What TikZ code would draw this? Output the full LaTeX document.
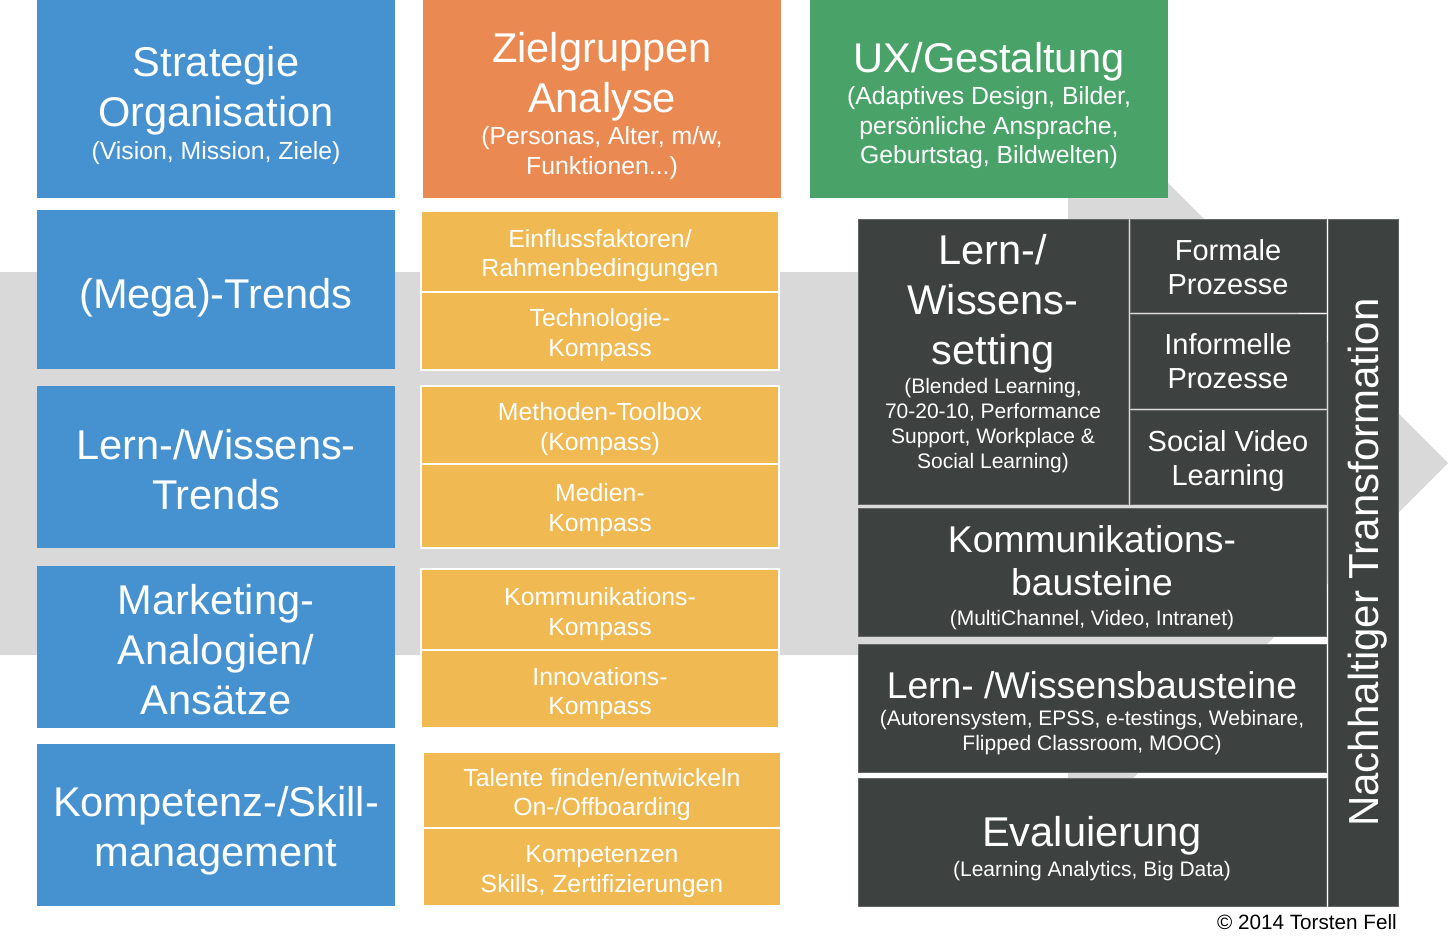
\documentclass[tikz,border=0pt]{standalone}
\usepackage{fontspec}
\setmainfont{Liberation Sans}
\usepackage{tikz}
\usetikzlibrary{positioning}
\definecolor{stratblau}{RGB}{70,146,208}
\definecolor{zielorange}{RGB}{234,138,82}
\definecolor{uxgruen}{RGB}{73,162,103}
\definecolor{kompassgelb}{RGB}{240,185,82}
\definecolor{settinggrau}{RGB}{61,65,64}
\definecolor{pfeilgrau}{RGB}{217,217,217}
\newcommand\boxtitle{\fontsize{41.6}{50}\selectfont}
\newcommand\boxbig{\fontsize{37.3}{43}\selectfont}
\newcommand\boxmid{\fontsize{29}{34}\selectfont}
\newcommand\boxsub{\fontsize{24.8}{29.5}\selectfont}
\newcommand\boxsmall{\fontsize{21}{25}\selectfont}
\newcommand\toprule[1]{\rule{0pt}{#1}}
\newcommand\botrule[1]{\rule[-#1]{0pt}{0pt}}
\tikzset{
  cell/.style={inner sep=0pt, outer sep=0pt, text=white, align=center,
    minimum width=358pt},
  bluebox/.style={cell, fill=stratblau, font=\boxtitle},
  topbox/.style={cell, font=\boxtitle, minimum height=198pt},
  yellowbox/.style={cell, fill=kompassgelb, draw=white, line width=1.5pt,
    font=\boxsub},
  darkbox/.style={cell, fill=settinggrau, draw=gray!60!settinggrau,
    line width=0.6pt}
}

\begin{document}
\begin{tikzpicture}[x=1pt,y=-1pt]
  \useasboundingbox (0,0) rectangle (1450,942);
  \fill[pfeilgrau] (0,272) -- (1068,272) -- (1068,83) -- (1448,463)
    -- (1068,843) -- (1068,655) -- (0,655) -- cycle;

  \node[topbox, fill=stratblau] (strat) at (216,99)
    {\toprule{44pt}Strategie\\Organisation\\[-17pt]\boxsub (Vision, Mission, Ziele)};
  \node[topbox, fill=zielorange] (ziel) at (602,99)
    {\toprule{44pt}Zielgruppen\\Analyse\\[-18pt]\boxsub (Personas, Alter, m/w,\\[-20.5pt]\boxsub Funktionen...)};
  \node[topbox, fill=uxgruen] (ux) at (989,99)
    {\toprule{44pt}UX/Gestaltung\\[-18pt]\boxsub (Adaptives Design, Bilder,\\[-20.5pt]\boxsub persönliche Ansprache,\\[-20.5pt]\boxsub Geburtstag, Bildwelten)};

  \node[bluebox, minimum height=159pt] (mega) at (216,289.5) {\toprule{46pt}(Mega)-Trends};
  \node[bluebox, minimum height=162pt] (lwtrends) at (216,467) {\toprule{36pt}Lern-/Wissens-\\Trends};
  \node[bluebox, minimum height=162pt] (marketing) at (216,647) {\toprule{36pt}Marketing-\\Analogien/\\Ansätze};
  \node[bluebox, minimum height=162pt] (kompetenz) at (216,825) {\toprule{42pt}Kompetenz-/Skill-\\management};

  \node[yellowbox, minimum height=81pt] (einfluss) at (600,251.5) {\toprule{26pt}Einflussfaktoren/\\Rahmenbedingungen};
  \node[yellowbox, minimum height=78pt] (techkomp) at (600,331) {\toprule{26.5pt}Technologie-\\Kompass};
  \node[yellowbox, minimum height=78pt] (methoden) at (600,425) {\toprule{26.5pt}Methoden-Toolbox\\(Kompass)};
  \node[yellowbox, minimum height=84pt] (medien) at (600,506) {\toprule{26.5pt}Medien-\\Kompass};
  \node[yellowbox, minimum height=81pt] (kommkomp) at (600,609.5) {\toprule{27pt}Kommunikations-\\Kompass};
  \node[yellowbox, minimum height=78pt] (innov) at (600,689) {\toprule{27pt}Innovations-\\Kompass};
  \node[yellowbox, minimum height=76pt] (talente) at (602,790) {\toprule{27pt}Talente finden/entwickeln\\On-/Offboarding};
  \node[yellowbox, minimum height=78pt] (kompz) at (602,867) {\toprule{26.5pt}Kompetenzen\\Skills, Zertifizierungen};

  \node[darkbox, font=\boxtitle, minimum width=270pt, minimum height=285pt] (setting) at (993,361.5)
    {Lern-/\\Wissens-\\setting\\[-21pt]\boxsmall (Blended Learning,\\[-25pt]\boxsmall 70-20-10, Performance\\[-25pt]\boxsmall Support, Workplace \&\\[-25pt]\boxsmall Social Learning)\botrule{19.5pt}};
  \node[darkbox, font=\boxmid, minimum width=196pt, minimum height=93pt] (formal) at (1228,265.5) {\toprule{25pt}Formale\\Prozesse};
  \node[darkbox, font=\boxmid, minimum width=196pt, minimum height=94pt] (informell) at (1228,361) {Informelle\\Prozesse};
  \node[darkbox, font=\boxmid, minimum width=196pt, minimum height=94pt] (socvideo) at (1228,457) {\toprule{29pt}Social Video\\Learning};
  \node[darkbox, font=\boxbig, minimum width=468pt, minimum height=128pt] (kommbau) at (1092,572)
    {\toprule{39pt}Kommunikations-\\bausteine\\[-13pt]\boxsmall (MultiChannel, Video, Intranet)};
  \node[darkbox, font=\boxbig, minimum width=468pt, minimum height=128pt] (lwbau) at (1092,708)
    {\toprule{38pt}Lern- /Wissensbausteine\\[-16pt]\boxsmall (Autorensystem, EPSS, e-testings, Webinare,\\[-18pt]\boxsmall Flipped Classroom, MOOC)};
  \node[darkbox, font=\boxtitle, minimum width=468pt, minimum height=128pt] (evalu) at (1092,842)
    {\toprule{44pt}Evaluierung\\[-20pt]\boxsmall (Learning Analytics, Big Data)};
  \node[darkbox, font=\fontsize{42}{50}\selectfont, rotate=90, minimum width=687pt, minimum height=70pt] (nachhaltig) at (1363,562.5)
    {\toprule{39pt}Nachhaltiger Transformation};

  \node[anchor=east, inner sep=0pt, font=\fontsize{20.7}{25}\selectfont] (copy) at (1397,922) {© 2014 Torsten Fell};
\end{tikzpicture}
\end{document}
